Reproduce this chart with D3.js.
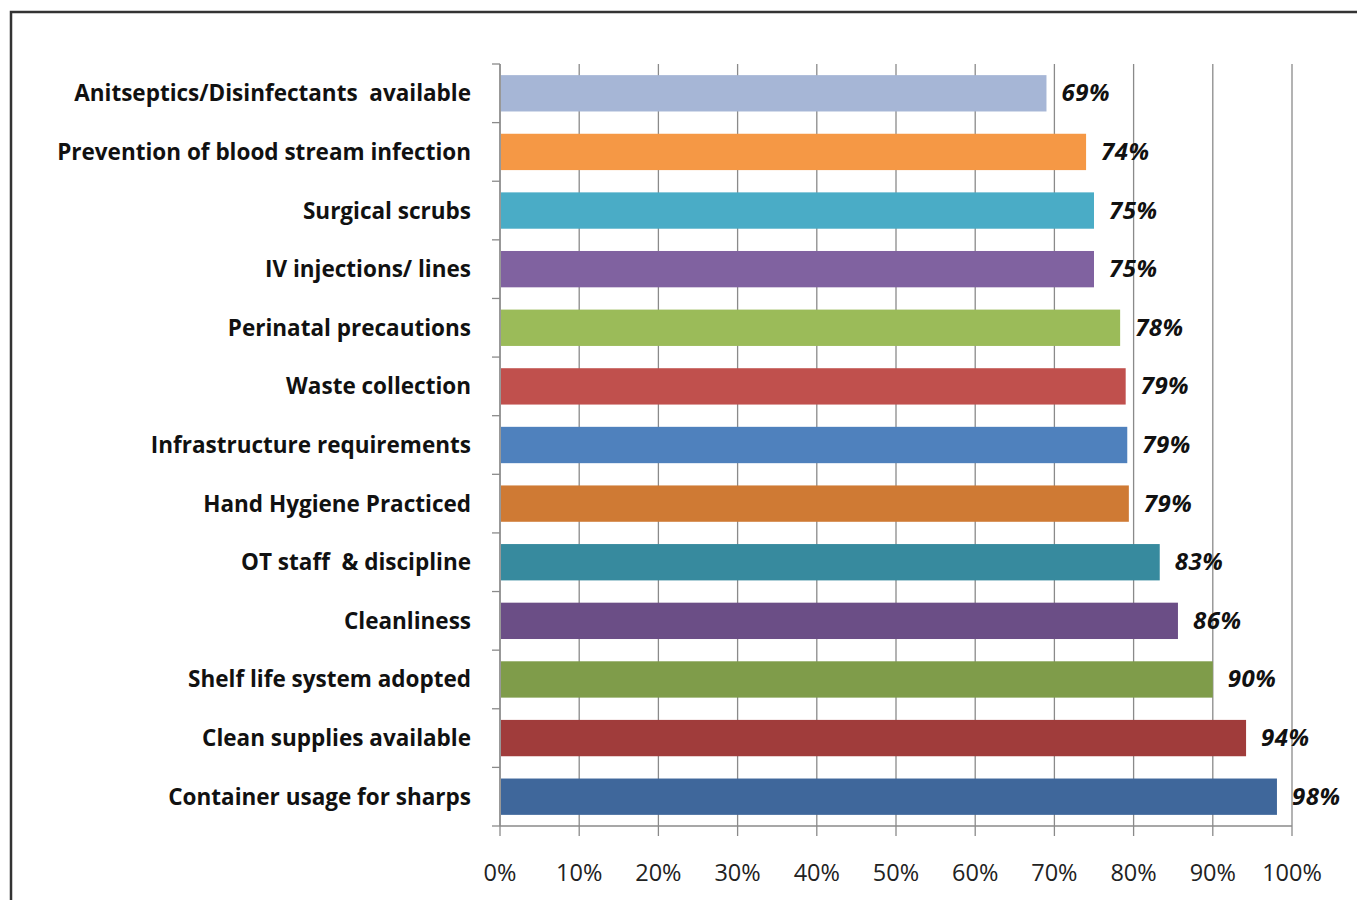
<!DOCTYPE html>
<html>
<head>
<meta charset="utf-8">
<script src="https://cdn.jsdelivr.net/npm/d3@7"></script>
<style>
  body { margin: 0; background: #fff; }
  svg { display: block; }
  .cat { font-family: "Open Sans", sans-serif; font-weight: bold; font-size: 22.5px; fill: #111; }
  .val { font-family: "Open Sans", sans-serif; font-weight: bold; font-style: italic; font-size: 24px; letter-spacing: 0.5px; fill: #111; }
  .tick-lbl { font-family: "Open Sans", sans-serif; font-size: 23.5px; fill: #222; }
</style>
</head>
<body>
<script>
// data, top to bottom as in the picture
var categories = [
    "Anitseptics/Disinfectants  available",
    "Prevention of blood stream infection",
    "Surgical scrubs",
    "IV injections/ lines",
    "Perinatal precautions",
    "Waste collection",
    "Infrastructure requirements",
    "Hand Hygiene Practiced",
    "OT staff  & discipline",
    "Cleanliness",
    "Shelf life system adopted",
    "Clean supplies available",
    "Container usage for sharps"
];
var values = [0.69, 0.74, 0.75, 0.75, 0.783, 0.79, 0.792, 0.794, 0.833, 0.856, 0.90, 0.942, 0.981];
var colors = ["#a6b6d6", "#f59845", "#4aacc6", "#8062a0", "#9bbb59", "#c0504d", "#4f81bd",
              "#cf7a34", "#378a9e", "#6b4e86", "#7f9c4a", "#a03c3b", "#3f679b"];
var xTicks = [0, 0.1, 0.2, 0.3, 0.4, 0.5, 0.6, 0.7, 0.8, 0.9, 1.0];

var W = 1357, H = 900;
var plotLeft = 500, plotRight = 1292, plotTop = 64, plotBottom = 826;

var svg = d3.select("body").append("svg")
    .attr("width", W)
    .attr("height", H);

// outer frame
svg.append("rect")
    .attr("x", 11).attr("y", 12)
    .attr("width", W + 20).attr("height", H + 20)
    .attr("fill", "none")
    .attr("stroke", "#333")
    .attr("stroke-width", 2.5);

var x = d3.scaleLinear().domain([0, 1]).range([plotLeft, plotRight]);
var y = d3.scaleBand().domain(categories).range([plotTop, plotBottom]).paddingInner(0.38).paddingOuter(0.19);

// gridlines + bottom ticks
svg.append("g").selectAll("line")
    .data(xTicks)
    .enter()
    .append("line")
    .attr("x1", d => x(d)).attr("x2", d => x(d))
    .attr("y1", plotTop).attr("y2", plotBottom + 10)
    .attr("stroke", "#8a8a8a")
    .attr("stroke-width", 1.3);

// bottom axis line
svg.append("line")
    .attr("x1", plotLeft).attr("x2", plotRight)
    .attr("y1", plotBottom).attr("y2", plotBottom)
    .attr("stroke", "#8a8a8a").attr("stroke-width", 1.3);

// left axis line + ticks at band boundaries
svg.append("line")
    .attr("x1", plotLeft).attr("x2", plotLeft)
    .attr("y1", plotTop).attr("y2", plotBottom)
    .attr("stroke", "#8a8a8a").attr("stroke-width", 1.3);

var step = (plotBottom - plotTop) / categories.length;
svg.append("g").selectAll("line")
    .data(d3.range(categories.length + 1))
    .enter()
    .append("line")
    .attr("x1", plotLeft - 8).attr("x2", plotLeft)
    .attr("y1", i => plotTop + i * step).attr("y2", i => plotTop + i * step)
    .attr("stroke", "#8a8a8a").attr("stroke-width", 1.3);

// bars
svg.append("g").selectAll("rect")
    .data(values)
    .enter()
    .append("rect")
    .attr("x", x(0) + 1)
    .attr("y", (d, i) => y(categories[i]))
    .attr("width", d => x(d) - x(0) - 1)
    .attr("height", y.bandwidth())
    .attr("fill", (d, i) => colors[i]);

// value labels
svg.append("g").selectAll("text")
    .data(values)
    .enter()
    .append("text")
    .attr("class", "val")
    .attr("x", d => x(d) + 15)
    .attr("y", (d, i) => y(categories[i]) + y.bandwidth() / 2 + 8)
    .text(d => Math.round(d * 100) + "%");

// category labels
svg.append("g").selectAll("text")
    .data(categories)
    .enter()
    .append("text")
    .attr("class", "cat")
    .attr("x", 471)
    .attr("y", d => y(d) + y.bandwidth() / 2 + 8)
    .attr("text-anchor", "end")
    .style("white-space", "pre")
    .text(d => d);

// x tick labels
svg.append("g").selectAll("text")
    .data(xTicks)
    .enter()
    .append("text")
    .attr("class", "tick-lbl")
    .attr("x", d => x(d))
    .attr("y", 881)
    .attr("text-anchor", "middle")
    .text(d => Math.round(d * 100) + "%");
</script>
</body>
</html>
